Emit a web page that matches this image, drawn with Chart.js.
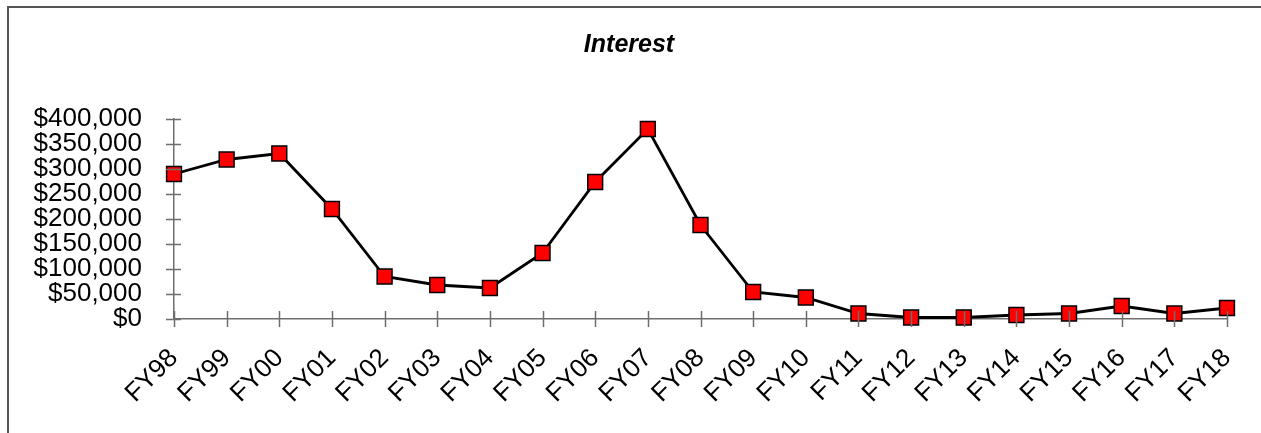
<!DOCTYPE html>
<html>
<head>
<meta charset="utf-8">
<script src="https://cdn.jsdelivr.net/npm/chart.js@4"></script>
<style>
  html, body { margin: 0; padding: 0; background: #fff; }
  canvas { display: block; }
</style>
</head>
<body>
<canvas id="c" width="1261" height="433"></canvas>
<script>
const categories = ["FY98","FY99","FY00","FY01","FY02","FY03","FY04","FY05","FY06","FY07","FY08","FY09","FY10","FY11","FY12","FY13","FY14","FY15","FY16","FY17","FY18"];
const interest = [290000, 319000, 331000, 220000, 85000, 68000, 62000, 132000, 274000, 380000, 188000, 54000, 43000, 11000, 3000, 3000, 8000, 11000, 26000, 11000, 22000];
const yTicks = [0, 50000, 100000, 150000, 200000, 250000, 300000, 350000, 400000];
const titleText = "Interest";

const FONT = "'Liberation Sans', Arial, sans-serif";
const AXIS_COLOR = "#6e6e6e";

const framePlugin = {
  id: 'frame',
  afterDraw(chart) {
    const ctx = chart.ctx;
    const ca = chart.chartArea;
    ctx.save();
    // outer frame
    ctx.strokeStyle = "#555";
    ctx.lineWidth = 2;
    ctx.beginPath();
    ctx.moveTo(8, 433);
    ctx.lineTo(8, 7);
    ctx.lineTo(1261, 7);
    ctx.stroke();
    // title
    ctx.fillStyle = '#000';
    ctx.font = "italic bold 25px " + FONT;
    ctx.textAlign = 'center';
    ctx.textBaseline = 'middle';
    ctx.fillText(titleText, 629, 45);
    // crossing tick marks
    ctx.strokeStyle = AXIS_COLOR;
    ctx.lineWidth = 1.5;
    const ys = chart.scales.y, xs = chart.scales.x;
    ctx.beginPath();
    ys.ticks.forEach((t, i) => {
      const py = Math.round(ys.getPixelForTick(i)) + 0.5;
      ctx.moveTo(ca.left - 8, py);
      ctx.lineTo(ca.left + 7, py);
    });
    xs.ticks.forEach((t, i) => {
      const px = Math.round(xs.getPixelForTick(i)) + 0.5;
      ctx.moveTo(px, ca.bottom - 8);
      ctx.lineTo(px, ca.bottom + 8);
    });
    ctx.stroke();
    ctx.restore();
  }
};

new Chart(document.getElementById('c'), {
  type: 'line',
  data: {
    labels: categories,
    datasets: [{
      label: titleText,
      data: interest,
      borderColor: '#000',
      borderWidth: 2.8,
      tension: 0,
      pointStyle: 'rect',
      pointRadius: 10.5,
      pointHoverRadius: 10.5,
      pointBackgroundColor: '#ff0000',
      pointBorderColor: '#000',
      pointBorderWidth: 1.5,
      clip: false
    }]
  },
  options: {
    responsive: false,
    animation: false,
    events: [],
    layout: { padding: { left: 0, right: 34, top: 119, bottom: 0 } },
    plugins: {
      legend: { display: false },
      tooltip: { enabled: false },
      title: { display: false }
    },
    scales: {
      x: {
        offset: false,
        grid: { display: false, drawTicks: false },
        border: { display: true, color: AXIS_COLOR, width: 1.5 },
        ticks: {
          color: '#000',
          font: { family: FONT, size: 26 },
          maxRotation: 45,
          minRotation: 45,
          autoSkip: false,
          padding: 24
        },
        afterFit(scale) {
          scale.height = 114;
          scale.paddingLeft = 0;
          scale.paddingRight = 0;
        }
      },
      y: {
        min: 0,
        max: 400000,
        grid: { display: false, drawTicks: false },
        border: { display: true, color: AXIS_COLOR, width: 1.5 },
        afterBuildTicks(scale) { scale.ticks = yTicks.map(v => ({ value: v })); },
        ticks: {
          color: '#000',
          font: { family: FONT, size: 26 },
          autoSkip: false,
          padding: 32,
          callback: v => '$' + Number(v).toLocaleString('en-US')
        },
        afterFit(scale) {
          scale.width = 174;
          scale.paddingTop = 0;
          scale.paddingBottom = 0;
        }
      }
    }
  },
  plugins: [framePlugin]
});
</script>
</body>
</html>
